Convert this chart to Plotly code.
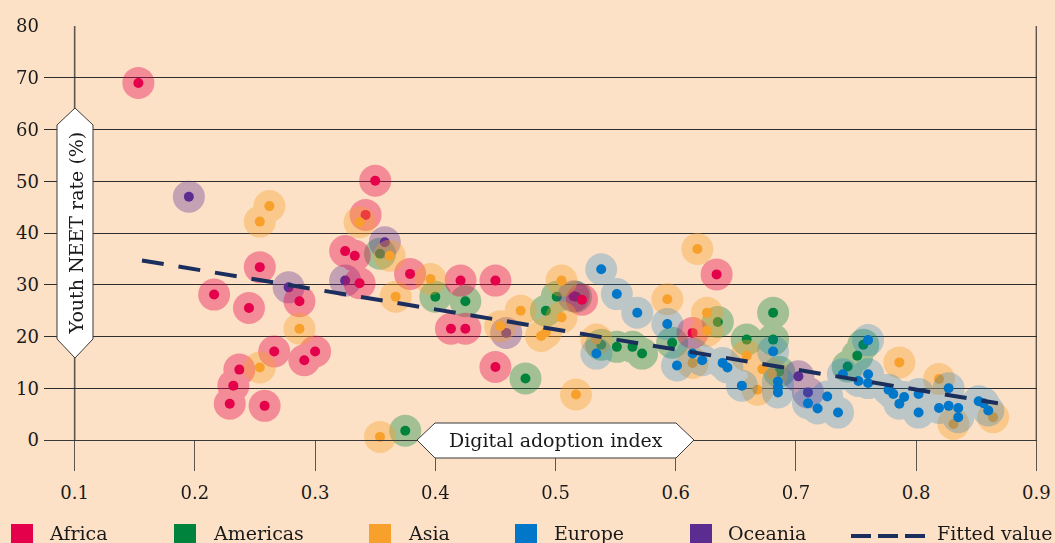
import plotly.graph_objects as go

# ---------------- data ----------------
regions = ["Africa", "Americas", "Asia", "Europe", "Oceania"]

africa_x = [0.153, 0.216, 0.245, 0.254, 0.237, 0.232, 0.229, 0.258, 0.266, 0.291, 0.300, 0.287,
            0.350, 0.342, 0.325, 0.333, 0.337, 0.379, 0.421, 0.450, 0.413, 0.425, 0.450, 0.522,
            0.634, 0.614]
africa_y = [69.0, 28.1, 25.5, 33.4, 13.6, 10.5, 7.0, 6.6, 17.1, 15.4, 17.1, 26.8,
            50.1, 43.5, 36.5, 35.6, 30.3, 32.1, 30.8, 30.8, 21.5, 21.5, 14.1, 27.1,
            32.0, 20.7]

americas_x = [0.354, 0.400, 0.425, 0.475, 0.375, 0.501, 0.492, 0.517, 0.538, 0.551, 0.564,
              0.572, 0.597, 0.635, 0.659, 0.681, 0.681, 0.686, 0.743, 0.751, 0.756]
americas_y = [36.0, 27.7, 26.8, 11.9, 1.8, 27.7, 25.0, 27.7, 18.4, 18.0, 18.0,
              16.7, 18.8, 22.8, 19.4, 24.6, 19.4, 13.2, 14.2, 16.3, 18.4]

asia_x = [0.254, 0.262, 0.254, 0.287, 0.337, 0.362, 0.396, 0.367, 0.505, 0.471, 0.505, 0.454,
          0.492, 0.488, 0.517, 0.534, 0.354, 0.618, 0.593, 0.626, 0.626, 0.614, 0.659, 0.672,
          0.680, 0.668, 0.786, 0.819, 0.831, 0.864]
asia_y = [42.2, 45.2, 14.0, 21.5, 42.1, 35.6, 31.1, 27.7, 30.8, 25.0, 23.7, 22.0,
          20.8, 20.1, 8.8, 19.4, 0.6, 36.9, 27.2, 24.6, 21.1, 14.9, 16.3, 13.7,
          12.8, 9.7, 15.0, 11.8, 3.1, 4.4]

europe_x = [0.538, 0.551, 0.534, 0.568, 0.593, 0.601, 0.614, 0.622, 0.639, 0.643, 0.655,
            0.681, 0.685, 0.685, 0.685, 0.710, 0.718, 0.726, 0.735, 0.739, 0.752, 0.760,
            0.760, 0.760, 0.777, 0.781, 0.790, 0.786, 0.802, 0.802, 0.819, 0.827, 0.827,
            0.835, 0.835, 0.852, 0.856, 0.860]
europe_y = [33.0, 28.2, 16.7, 24.6, 22.4, 14.4, 16.7, 15.4, 14.9, 14.0, 10.5,
            17.1, 11.3, 10.2, 9.2, 7.1, 6.1, 8.4, 5.3, 12.7, 11.4, 12.7,
            11.0, 19.3, 9.7, 8.9, 8.3, 7.0, 8.9, 5.3, 6.2, 10.0, 6.6,
            6.2, 4.4, 7.5, 7.1, 5.7]

oceania_x = [0.195, 0.278, 0.358, 0.325, 0.459, 0.515, 0.702, 0.710]
oceania_y = [47.0, 29.5, 38.2, 30.8, 20.7, 27.8, 12.3, 9.2]

fitted_x = [0.156, 0.868]
fitted_y = [34.7, 7.1]

x_ticks = [0.1, 0.2, 0.3, 0.4, 0.5, 0.6, 0.7, 0.8, 0.9]
x_tick_labels = ["0.1", "0.2", "0.3", "0.4", "0.5", "0.6", "0.7", "0.8", "0.9"]
y_ticks = [0, 10, 20, 30, 40, 50, 60, 70, 80]
y_tick_labels = ["0", "10", "20", "30", "40", "50", "60", "70", "80"]

# ---------------- styling ----------------
BG = "#FDE1C6"
FONT = "DejaVu Serif"
TXT = "#1a1a1a"
colors = {"Africa": "#e4004b", "Americas": "#00843d", "Asia": "#f8a02c",
          "Europe": "#0077c8", "Oceania": "#5c2d91"}
halo_opacity = {"Africa": 0.38, "Americas": 0.36, "Asia": 0.38, "Europe": 0.25, "Oceania": 0.36}
series = {"Africa": (africa_x, africa_y), "Americas": (americas_x, americas_y),
          "Asia": (asia_x, asia_y), "Europe": (europe_x, europe_y),
          "Oceania": (oceania_x, oceania_y)}
draw_order = ["Americas", "Oceania", "Africa", "Asia", "Europe"]

W, H = 1055, 543
ML, MR, MT, MB = 44, 18, 26, 103
PW, PH = W - ML - MR, H - MT - MB
XR = [0.0745, 0.9005]
YR = [0, 80]


def pxx(px):
    return (px - ML) / PW


def pxy(py):
    return (H - MB - py) / PH


fig = go.Figure()

for r in draw_order:
    xs, ys = series[r]
    fig.add_trace(go.Scatter(x=xs, y=ys, mode="markers", name=r, showlegend=False,
                             opacity=halo_opacity[r], cliponaxis=False, hoverinfo="skip",
                             marker=dict(size=32, color=colors[r], line=dict(width=0))))
    fig.add_trace(go.Scatter(x=xs, y=ys, mode="markers", name=r, showlegend=False,
                             cliponaxis=False,
                             marker=dict(size=10, color=colors[r], line=dict(width=0))))

fig.add_trace(go.Scatter(x=fitted_x, y=fitted_y, mode="lines", name="Fitted value",
                         showlegend=False,
                         line=dict(color="#1b2f5e", width=4, dash="22px,15px")))

shapes = []
axis_col = "#5d5550"
# vertical frame lines at 0.1 and 0.9
for xv in (x_ticks[0], x_ticks[-1]):
    shapes.append(dict(type="line", xref="x", yref="y", x0=xv, x1=xv, y0=YR[0], y1=YR[1],
                       line=dict(color=axis_col, width=1.6), layer="below"))

# y-axis title box (hexagon pointing up/down)
yb = [(57, 125), (75, 108), (93, 125), (93, 339), (75, 358), (57, 339)]
path = "M " + " L ".join(f"{pxx(a):.5f},{pxy(b):.5f}" for a, b in yb) + " Z"
shapes.append(dict(type="path", xref="paper", yref="paper", path=path,
                   fillcolor="white", line=dict(color="#3a3a3a", width=1), layer="above"))
# x-axis title box (pointing left/right)
xb = [(417, 440), (435, 423), (676, 423), (694, 440), (676, 458), (435, 458)]
path = "M " + " L ".join(f"{pxx(a):.5f},{pxy(b):.5f}" for a, b in xb) + " Z"
shapes.append(dict(type="path", xref="paper", yref="paper", path=path,
                   fillcolor="white", line=dict(color="#3a3a3a", width=1), layer="above"))

annotations = [
    dict(text="Youth NEET rate (%)", textangle=-90, xref="paper", yref="paper",
         x=pxx(75.5), y=pxy(233), showarrow=False, xanchor="center", yanchor="middle",
         font=dict(family=FONT, size=19, color=TXT)),
    dict(text="Digital adoption index", xref="paper", yref="paper",
         x=pxx(556), y=pxy(440), showarrow=False, xanchor="center", yanchor="middle",
         font=dict(family=FONT, size=19, color=TXT)),
]

# legend (drawn manually at the bottom)
legend_items = [("Africa", 11, 47), ("Americas", 174, 210.5), ("Asia", 369, 405.5),
                ("Europe", 515, 551.5), ("Oceania", 690, 725.5)]
for name, sx, tx in legend_items:
    shapes.append(dict(type="rect", xref="paper", yref="paper",
                       x0=pxx(sx), x1=pxx(sx + 22), y0=pxy(524), y1=pxy(550),
                       fillcolor=colors[name], line=dict(width=0)))
    annotations.append(dict(text=name, xref="paper", yref="paper", x=pxx(tx), y=pxy(533),
                            showarrow=False, xanchor="left", yanchor="middle",
                            font=dict(family=FONT, size=19, color=TXT)))
shapes.append(dict(type="line", xref="paper", yref="paper", x0=pxx(851), x1=pxx(925),
                   y0=pxy(536), y1=pxy(536),
                   line=dict(color="#1b2f5e", width=4, dash="20px,7px")))
annotations.append(dict(text="Fitted value", xref="paper", yref="paper", x=pxx(935),
                        y=pxy(533), showarrow=False, xanchor="left", yanchor="middle",
                        font=dict(family=FONT, size=19, color=TXT)))

fig.update_layout(
    width=W, height=H,
    margin=dict(l=ML, r=MR, t=MT, b=MB, pad=0, autoexpand=False),
    paper_bgcolor=BG, plot_bgcolor=BG,
    font=dict(family=FONT, size=18, color=TXT),
    showlegend=False,
    shapes=shapes,
    annotations=annotations,
    xaxis=dict(range=XR, tickvals=x_ticks, ticktext=x_tick_labels, ticks="outside",
               ticklen=30, tickwidth=1.2, tickcolor=axis_col, showgrid=False, zeroline=False,
               showline=True, linecolor="#3a3a3a", linewidth=1, ticklabelstandoff=6,
               automargin=False, tickfont=dict(family=FONT, size=18, color=TXT)),
    yaxis=dict(range=YR, tickvals=y_ticks, ticktext=y_tick_labels, ticks="",
               showgrid=True, gridcolor="#2e2e2e", gridwidth=1, zeroline=False,
               showline=False, automargin=False, tickfont=dict(family=FONT, size=18, color=TXT),
               ticklabelstandoff=4),
)

page_fix = ("document.body.style.margin='0';document.body.style.padding='0';"
            "document.body.style.overflow='hidden';"
            "document.body.style.background='" + BG + "';")
fig.write_html("out.html", post_script=page_fix, config={"displayModeBar": False})
